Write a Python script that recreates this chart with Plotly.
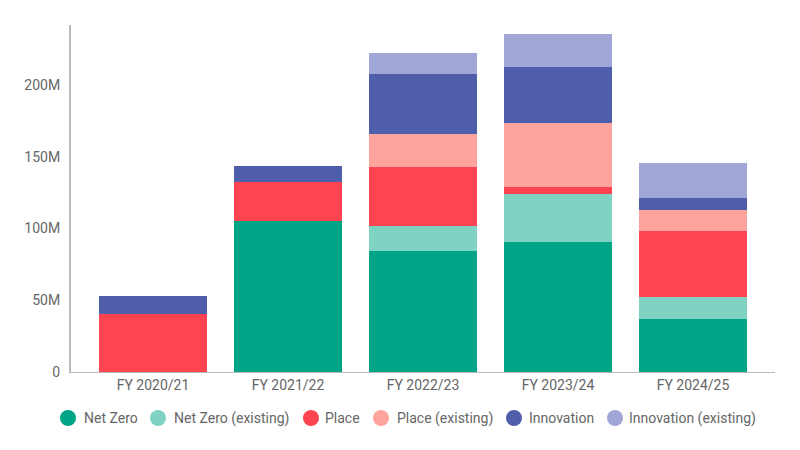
import plotly.graph_objects as go

categories = ["FY 2020/21", "FY 2021/22", "FY 2022/23", "FY 2023/24", "FY 2024/25"]
series_names = ["Net Zero", "Net Zero (existing)", "Place", "Place (existing)", "Innovation", "Innovation (existing)"]
net_zero = [0, 105.0e6, 84.5e6, 90.6e6, 36.9e6]
net_zero_existing = [0, 0, 17.4e6, 33.7e6, 15.5e6]
place = [40.7e6, 27.6e6, 40.6e6, 4.4e6, 45.9e6]
place_existing = [0, 0, 23.2e6, 45.0e6, 14.2e6]
innovation = [12.5e6, 10.6e6, 41.7e6, 38.7e6, 8.8e6]
innovation_existing = [0, 0, 15.0e6, 23.2e6, 24.6e6]
colors = ["#00A487", "#80D2C3", "#FF4451", "#FFA49D", "#4F5EAB", "#A0A6D5"]
y_ticks = [0, 50e6, 100e6, 150e6, 200e6]
y_tick_labels = ["0", "50M", "100M", "150M", "200M"]

values = [net_zero, net_zero_existing, place, place_existing, innovation, innovation_existing]

# plot area in screen pixels (page body has an 8px default margin)
OFF = 8
L, R, T, B = 71, 775, 25, 372
W, H = R - L, B - T

def px_x(px):
    return (px - L) / W

def px_y(py):
    return (B - py) / H

fig = go.Figure()
for name, vals, col in zip(series_names, values, colors):
    fig.add_trace(go.Bar(x=categories, y=vals, name=name, marker=dict(color=col, line=dict(width=0)),
                         showlegend=False, width=0.8))

# custom legend (circle + label) laid out in one row under the chart
legend_circle_x = [68, 158, 311, 381, 514, 615]
legend_text_x = [82, 172, 323, 395, 527, 627]
legend_y = 418
shapes = []
annotations = []
for name, col, cx, tx in zip(series_names, colors, legend_circle_x, legend_text_x):
    shapes.append(dict(type="circle", xref="paper", yref="paper", xsizemode="pixel", ysizemode="pixel",
                       xanchor=px_x(cx), yanchor=px_y(legend_y), x0=-8, x1=8, y0=-8, y1=8,
                       fillcolor=col, line=dict(width=0)))
    annotations.append(dict(text=name, xref="paper", yref="paper", x=px_x(tx), y=px_y(legend_y),
                            xanchor="left", yanchor="middle", showarrow=False,
                            font=dict(size=14, color="#666666")))

fig.update_layout(
    barmode="stack",
    width=800, height=450,
    margin=dict(l=L - OFF, r=800 - (R - OFF), t=T - OFF, b=450 - (B - OFF)),
    paper_bgcolor="white", plot_bgcolor="white",
    font=dict(family="Roboto", size=14, color="#666666"),
    showlegend=False,
    xaxis=dict(type="category", range=[-0.607, 4.607], showline=True, linecolor="#BBBBBB", linewidth=1,
               showgrid=False, ticks="", automargin=False, tickfont=dict(size=14, color="#666666")),
    yaxis=dict(range=[0, 241.7e6], showline=True, linecolor="#BBBBBB", linewidth=2, showgrid=False,
               zeroline=False, tickvals=y_ticks, ticktext=y_tick_labels, ticks="", automargin=False,
               ticklabelstandoff=6, tickfont=dict(size=14, color="#666666")),
    shapes=shapes,
    annotations=annotations,
)

fig.write_html("out.html")
